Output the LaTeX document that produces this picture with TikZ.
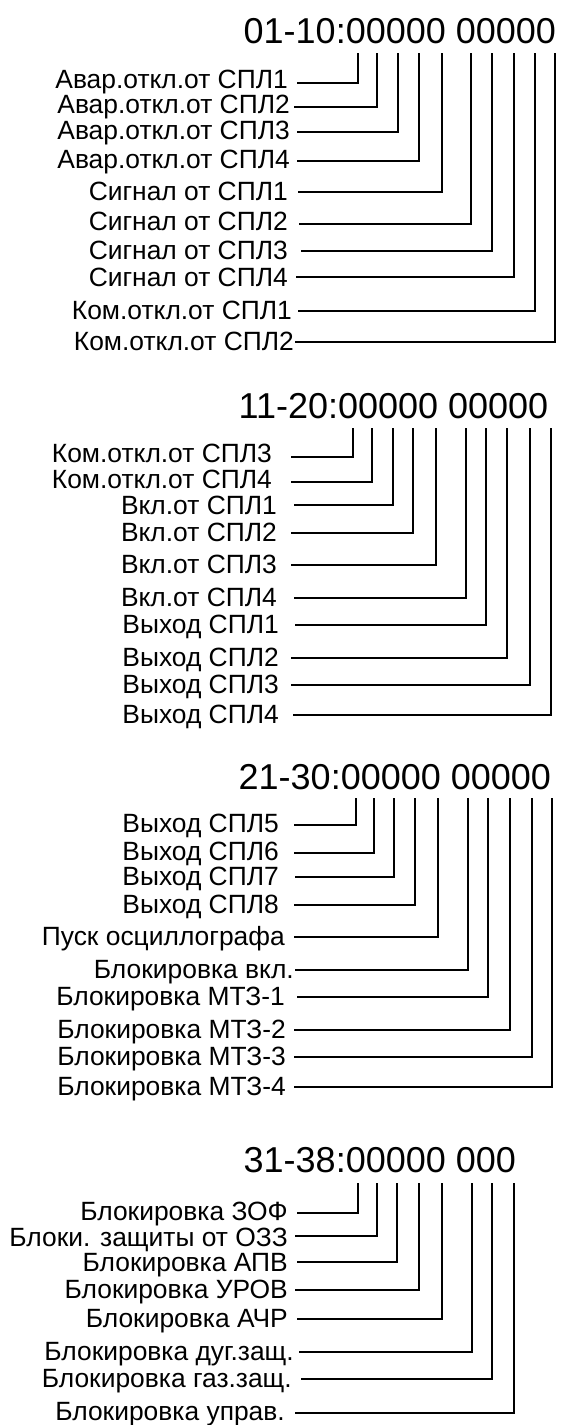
\documentclass[tikz,border=0pt]{standalone}
\usepackage{fontspec}
\setmainfont{Liberation Sans}
\begin{document}
\begin{tikzpicture}[x=1pt,y=-1pt,
  lbl/.style={anchor=east,inner sep=0pt,text height=18.9pt,text depth=0pt,font=\fontsize{26.4}{26.4}\selectfont},
  hdr/.style={anchor=west,inner sep=0pt,text height=25.8pt,text depth=0pt,font=\fontsize{36}{36}\selectfont},
  wire/.style={line width=1.6pt}]
\useasboundingbox (0,0) rectangle (565,1425);
% ---------- section 1 ----------
\node[hdr] (h1) at (243.5,30.5) {01-10:00000 00000};
\def\vt{53}
\foreach \n/\t/\o/\y/\r/\s/\v in {
 a1/{Авар.откл.от СПЛ1}/79/83/288/297/358,
 a2/{Авар.откл.от СПЛ2}/104/107/290/294/377,
 a3/{Авар.откл.от СПЛ3}/130/132/290/297/398,
 a4/{Авар.откл.от СПЛ4}/159/161/290/297/419,
 a5/{Сигнал от СПЛ1}/191/192/288/298/442,
 a6/{Сигнал от СПЛ2}/221/224/288/299/471,
 a7/{Сигнал от СПЛ3}/250/251/288/301/492,
 a8/{Сигнал от СПЛ4}/277/277/288/296/514,
 a9/{Ком.откл.от СПЛ1}/310/311/292/298/535,
 a10/{Ком.откл.от СПЛ2}/341/342/294/295/555}{
  \node[lbl] (\n) at (\r,\o) {\t};
  \coordinate (\n s) at (\s,\y);
  \coordinate (\n t) at (\v,\vt);
  \draw[wire] (\n s) -| (\n t);
}
% ---------- section 2 ----------
\node[hdr] (h2) at (238.5,406) {11-20:00000 00000};
\def\vt{428}
\foreach \n/\t/\o/\y/\r/\s/\v in {
 b1/{Ком.откл.от СПЛ3}/453/457/272/291/353,
 b2/{Ком.откл.от СПЛ4}/479/482/272/291/372,
 b3/{Вкл.от СПЛ1}/505/505/277/294/393,
 b4/{Вкл.от СПЛ2}/532/533/277/291/413,
 b5/{Вкл.от СПЛ3}/564/565/277/291/436,
 b6/{Вкл.от СПЛ4}/597/598/277/294/466,
 b7/{Выход СПЛ1}/624/625/279/295/486,
 b8/{Выход СПЛ2}/657/658/279/291/507,
 b9/{Выход СПЛ3}/684/685/279/291/530,
 b10/{Выход СПЛ4}/714/715/279/293/551}{
  \node[lbl] (\n) at (\r,\o) {\t};
  \coordinate (\n s) at (\s,\y);
  \coordinate (\n t) at (\v,\vt);
  \draw[wire] (\n s) -| (\n t);
}
% ---------- section 3 ----------
\node[hdr] (h3) at (238.5,776.5) {21-30:00000 00000};
\def\vt{798}
\foreach \n/\t/\o/\y/\r/\s/\v in {
 c1/{Выход СПЛ5}/823.5/825/279/294/356,
 c2/{Выход СПЛ6}/851.5/853/279/294/374,
 c3/{Выход СПЛ7}/876/877/279/295/394,
 c4/{Выход СПЛ8}/904/905/279/294/415,
 c5/{Пуск осциллографа}/936/937/285/294/438,
 c6/{Блокировка вкл.}/969/970/294/295/468,
 c7/{Блокировка МТЗ-1}/996/997/285/297/488,
 c8/{Блокировка МТЗ-2}/1029/1030/286/294/510,
 c9/{Блокировка МТЗ-3}/1056/1057/286/294/532,
 c10/{Блокировка МТЗ-4}/1086/1087/286/294/552}{
  \node[lbl] (\n) at (\r,\o) {\t};
  \coordinate (\n s) at (\s,\y);
  \coordinate (\n t) at (\v,\vt);
  \draw[wire] (\n s) -| (\n t);
}
% ---------- section 4 ----------
\node[hdr] (h4) at (243.5,1159.5) {31-38:00000 000};
\def\vt{1183}
\foreach \n/\t/\o/\y/\r/\s/\v in {
 d1/{Блокировка ЗОФ}/1211/1213/288/297/358,
 d2/{Блоки. защиты от ОЗЗ}/1237/1236/288/295/377,
 d3/{Блокировка АПВ}/1262/1262/288/297/397,
 d4/{Блокировка УРОВ}/1289/1290/288/295/419,
 d5/{Блокировка АЧР}/1318/1319/288/297/442,
 d6/{Блокировка дуг.защ.}/1351/1352/294/299/472,
 d7/{Блокировка газ.защ.}/1378/1379/292/301/492,
 d8/{Блокировка управ.}/1411/1413/285/295/514}{
  \node[lbl] (\n) at (\r,\o) {\t};
  \coordinate (\n s) at (\s,\y);
  \coordinate (\n t) at (\v,\vt);
  \draw[wire] (\n s) -| (\n t);
}
\end{tikzpicture}
\end{document}
